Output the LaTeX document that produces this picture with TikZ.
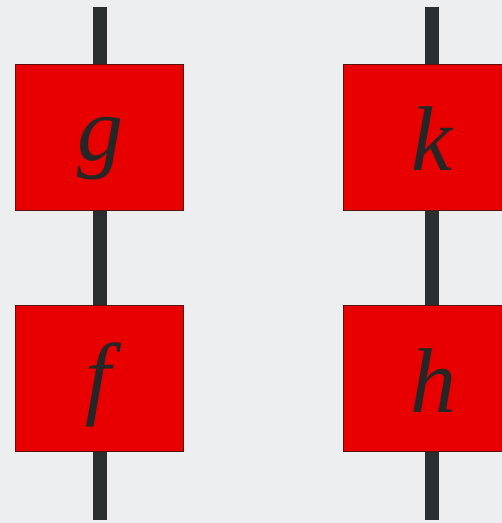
\documentclass[tikz,border=0pt]{standalone}
\usepackage{fontspec}
\newfontfamily\labelfont{Liberation Serif}
\definecolor{bg}{HTML}{EDEEF0}
\definecolor{wire}{HTML}{2A2E31}
\definecolor{boxred}{HTML}{E80000}
\definecolor{boxedge}{HTML}{5A1010}
\tikzset{
  wireline/.style={draw=wire,line width=14pt},
  morph/.style={draw=boxedge,fill=boxred,line width=1pt},
  lbl/.style={anchor=base,inner sep=0pt,text=black!85,font=\labelfont\itshape\fontsize{92}{92}\selectfont},
}
\begin{document}
\begin{tikzpicture}[x=1pt,y=-1pt]
\fill[bg] (0,0) rectangle (502,523);
\useasboundingbox (0,0) rectangle (502,523);
\begin{scope}
\clip (0,0) rectangle (502,523);
\coordinate (ltop) at (100,7);
\coordinate (lbot) at (100,520);
\coordinate (rtop) at (431.5,7);
\coordinate (rbot) at (431.5,520);
\draw[wireline] (ltop) -- (lbot);
\draw[wireline] (rtop) -- (rbot);
\path[morph] (15,64) rectangle (183,210);
\path[morph] (343,64) rectangle (515,210);
\path[morph] (15,305) rectangle (183,451);
\path[morph] (343,305) rectangle (515,451);
\node[lbl] (g) at (100,160) {g};
\node[lbl] (k) at (432,170) {k};
\node[lbl] (f) at (98,407) {f};
\node[lbl] (h) at (433,412) {h};
\end{scope}
\end{tikzpicture}
\end{document}
